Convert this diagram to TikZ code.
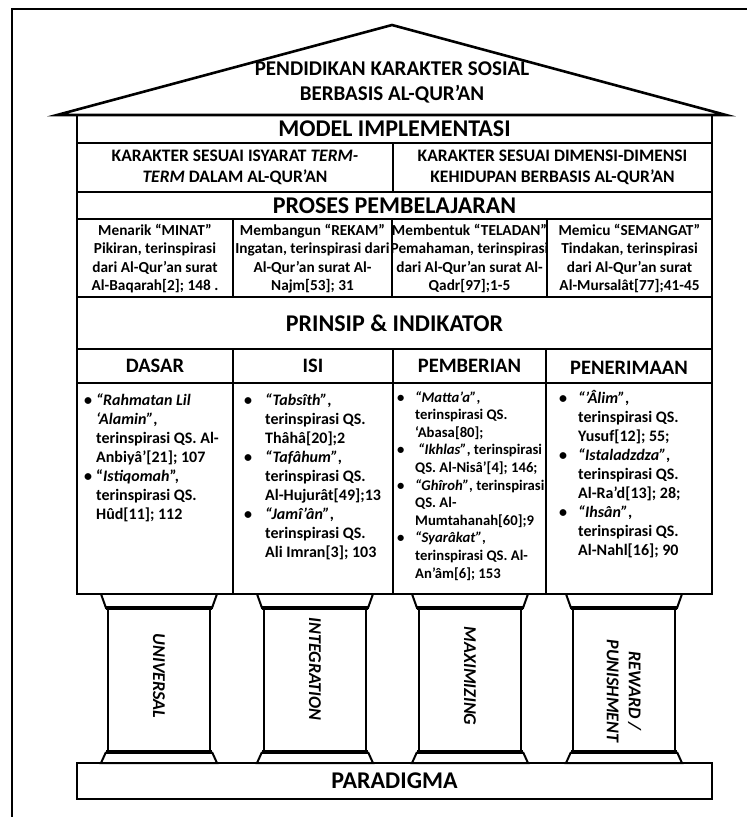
\documentclass[tikz,border=0pt]{standalone}
\usepackage{fontspec}
\setmainfont{Carlito}
% bullet cell of fixed width
\newcommand\bl[1]{\makebox[#1][l]{\textbullet}}
\newcommand\fs[2]{\fontsize{#1}{#2}\selectfont}
\begin{document}
\begin{tikzpicture}[x=1pt,y=-1pt]
\tikzset{
  outerline/.style={line width=1.6pt},
  shell/.style={line width=2.6pt, line join=miter},
  divline/.style={line width=2pt},
  ringline/.style={line width=3.6pt},
  lbl/.style={inner sep=0pt, font=\bfseries},
  bigtitle/.style={lbl, font=\fs{24}{28}\bfseries},
  roofttl/.style={lbl, font=\fs{21}{25}\bfseries, align=center},
  karttl/.style={lbl, font=\fs{17.5}{21}\bfseries, align=center},
  celltext/.style={lbl, font=\fs{15.3}{18.3}\bfseries, align=center},
  hdr/.style={lbl, font=\fs{20.5}{24}\bfseries},
  blist/.style={lbl, anchor=base west, font=\fs{16}{19}\bfseries},
  plabel/.style={lbl, rotate=-90, align=center, font=\fs{18}{22}\bfseries\itshape},
}
\useasboundingbox (0,0) rectangle (747,817);
\fill[white] (0,0) rectangle (747,817);

% page frame
\draw[outerline] (748,9) -- (12,9) -- (12,818);

% roof and main body
\draw[shell] (57,115) -- (392,25) -- (726,115) -- cycle;
\draw[shell] (77,115) rectangle (712,594);
\foreach \yy in {143,192,219,297,349,383} \draw[divline] (77,\yy) -- (712,\yy);
\draw[divline] (393,143) -- (393,192);
\foreach \xx in {233,392,547} \draw[divline] (\xx,219) -- (\xx,297);
\foreach \xx in {233,393,546} \draw[divline] (\xx,349) -- (\xx,594);

% pillars
\foreach \c in {159,315,470,624} {
  \draw[divline] (\c-58,594) -- (\c-53,608) -- (\c+53,608) -- (\c+58,594);
  \draw[divline] (\c-51,608) -- (\c-51,752) (\c+51,608) -- (\c+51,752);
  \draw[ringline] (\c-53,608) -- (\c+53,608) (\c-53,752) -- (\c+53,752);
  \draw[divline] (\c-53,752) -- (\c-58,763) -- (\c+58,763) -- (\c+53,752);
}
% foundation
\draw[shell] (77,763) rectangle (712,799);

% texts
\node[roofttl] (roof) at (392,82.5) {PENDIDIKAN KARAKTER SOSIAL\\BERBASIS AL-QUR’AN};
\node[bigtitle] (model) at (394.5,129) {MODEL IMPLEMENTASI};
\node[karttl] (termrow) at (235,167.5) {KARAKTER SESUAI ISYARAT \textit{TERM-}\\\textit{TERM} DALAM AL-QUR’AN};
\node[karttl] (dimrow) at (552.5,167.5) {KARAKTER SESUAI DIMENSI-DIMENSI\\KEHIDUPAN BERBASIS AL-QUR’AN};
\node[bigtitle] (proses) at (394.5,205.5) {PROSES PEMBELAJARAN};

\node[celltext] (minat) at (155,258.5) {Menarik “MINAT”\\Pikiran, terinspirasi\\dari Al-Qur’an surat\\Al-Baqarah[2]; 148 .};
\node[celltext] (rekam) at (312.5,258.5) {Membangun “REKAM”\\Ingatan, terinspirasi dari\\Al-Qur’an surat Al-\\Najm[53]; 31};
\node[celltext] (teladan) at (469.5,258.5) {Membentuk “TELADAN”\\Pemahaman, terinspirasi\\dari Al-Qur’an surat Al-\\Qadr[97];1-5};
\node[celltext] (semangat) at (629.5,258.5) {Memicu “SEMANGAT”\\Tindakan, terinspirasi\\dari Al-Qur’an surat\\Al-Mursalât[77];41-45};

\node[bigtitle] (prinsip) at (394.5,323) {PRINSIP \& INDIKATOR};
\node[hdr] (dasar) at (155,366) {DASAR};
\node[hdr] (isi) at (313,366) {ISI};
\node[hdr] (pemberian) at (469.5,366) {PEMBERIAN};
\node[hdr] (penerimaan) at (629,368) {PENERIMAAN};

\node[blist] (dasarlist) at (84,405) {\begin{tabular}[t]{@{}l@{}l@{}}
\bl{12pt} & \textit{“Rahmatan Lil}\\
 & \textit{‘Alamin”},\\
 & terinspirasi QS. Al-\\
 & Anbiyâ’[21]; 107\\
\bl{12pt} & “\textit{Istiqomah}”,\\
 & terinspirasi QS.\\
 & Hûd[11]; 112
\end{tabular}};
\node[blist] (isilist) at (244,405) {\begin{tabular}[t]{@{}l@{}l@{}}
\bl{21pt} & \textit{“Tabsîth”},\\
 & terinspirasi QS.\\
 & Thâhâ[20];2\\
\bl{21pt} & \textit{“Tafâhum”},\\
 & terinspirasi QS.\\
 & Al-Hujurât[49];13\\
\bl{21pt} & \textit{“Jamî’ân”},\\
 & terinspirasi QS.\\
 & Ali Imran[3]; 103
\end{tabular}};
\node[blist, font=\fs{14.7}{17.6}\bfseries] (pemberianlist) at (397,402) {\begin{tabular}[t]{@{}l@{}l@{}}
\bl{18pt} & \textit{“Matta’a”},\\
 & terinspirasi QS.\\
 & ‘Abasa[80];\\
\bl{18pt} & \hspace{3pt}\textit{“Ikhlas”}, terinspirasi\\
 & QS. Al-Nisâ’[4]; 146;\\
\bl{18pt} & \textit{“Ghîroh”}, terinspirasi\\
 & QS. Al-\\
 & Mumtahanah[60];9\\
\bl{18pt} & \textit{“Syarâkat”},\\
 & terinspirasi QS. Al-\\
 & An’âm[6]; 153
\end{tabular}};
\node[blist] (penerimaanlist) at (559,403) {\begin{tabular}[t]{@{}l@{}l@{}}
\bl{19pt} & \textit{“’Âlim”},\\
 & terinspirasi QS.\\
 & Yusuf[12]; 55;\\
\bl{19pt} & \textit{“Istaladzdza”},\\
 & terinspirasi QS.\\
 & Al-Ra’d[13]; 28;\\
\bl{19pt} & \textit{“Ihsân”},\\
 & terinspirasi QS.\\
 & Al-Nahl[16]; 90
\end{tabular}};

\node[plabel] (universal) at (159,676) {UNIVERSAL};
\node[plabel] (integration) at (315,669) {INTEGRATION};
\node[plabel] (maximizing) at (470,676) {MAXIMIZING};
\node[plabel] (reward) at (624,691) {REWARD /\\PUNISHMENT};

\node[bigtitle] (paradigma) at (394.5,781) {PARADIGMA};
\end{tikzpicture}
\end{document}
